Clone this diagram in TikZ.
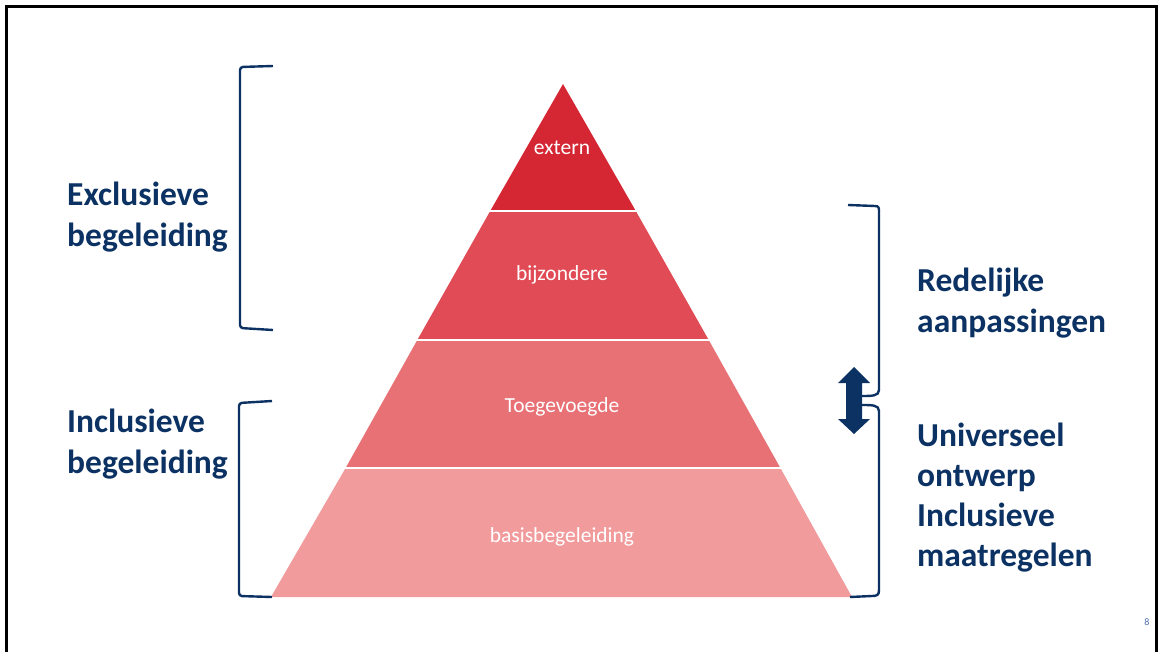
\documentclass[tikz,border=0pt]{standalone}
\usepackage{fontspec}
\setmainfont{Carlito}
\definecolor{navy}{RGB}{12,50,100}
\definecolor{lay1}{RGB}{212,38,51}
\definecolor{lay2}{RGB}{224,75,85}
\definecolor{lay3}{RGB}{232,113,118}
\definecolor{lay4}{RGB}{242,155,157}
\definecolor{pgnum}{RGB}{80,110,170}
\tikzset{
  layertext/.style={text=white, font=\fontsize{21.5}{25}\selectfont, inner sep=0pt},
  bluelabel/.style={text=navy, font=\fontsize{33.5}{41}\selectfont\bfseries, align=left, anchor=west, inner sep=0pt},
  bracket/.style={draw=navy, line width=2.4pt, rounded corners=3pt},
  sep/.style={draw=white, line width=2pt}
}
\begin{document}
\begin{tikzpicture}[x=1pt,y=-1pt]
\useasboundingbox (0,0) rectangle (1158,652);
\fill[white] (0,0) rectangle (1158,652);
% frame
\begin{scope}
\clip (0,0) rectangle (1158,652);
\draw[black, line width=3pt] (6,665) -- (6,7) -- (1156,7) -- (1156,665);
\end{scope}
% pyramid
\coordinate (apex) at (563,84);
\fill[lay1] (apex) -- (635.8,211) -- (490.2,211) -- cycle;
\fill[lay2] (490.2,211) -- (635.8,211) -- (708.7,340) -- (417.3,340) -- cycle;
\fill[lay3] (417.3,340) -- (708.7,340) -- (780.4,468) -- (345.6,468) -- cycle;
\fill[lay4] (345.6,468) -- (780.4,468) -- (852,597) -- (271,597) -- cycle;
\draw[sep] (480,211) -- (646,211);
\draw[sep] (407,340) -- (719,340);
\draw[sep] (335,468) -- (791,468);
\node[layertext] (extern) at (562,148) {extern};
\node[layertext] (bijz) at (562,275) {bijzondere};
\node[layertext] (toeg) at (562,407) {Toegevoegde};
\node[layertext] (basis) at (562,536.5) {basisbegeleiding};
% left brackets
\draw[bracket] (273,66) -- (240,67) -- (240,328) -- (273,330);
\draw[bracket] (272,401) -- (239,403) -- (239,596) -- (272,597);
% right brackets
\draw[bracket, rounded corners=0pt] (848,205) -- (875,206) .. controls (879,206) and (879,208) .. (879,212) -- (879,390) .. controls (879,396) and (872,396) .. (862,396);
\draw[bracket, rounded corners=0pt] (862,405) .. controls (872,405) and (879,405) .. (879,411) -- (879,590) .. controls (879,595) and (877,596) .. (872,596) -- (850,597);
% double arrow
\fill[navy] (854,367) -- (870,383) -- (862,383) -- (862,419) -- (870,419) -- (854,434) -- (838,419) -- (846,419) -- (846,383) -- (838,383) -- cycle;
% labels
\node[bluelabel] (excl) at (67,217) {Exclusieve\\begeleiding};
\node[bluelabel] (incl) at (67,444) {Inclusieve\\begeleiding};
\node[bluelabel] (redel) at (917,303) {Redelijke\\aanpassingen};
\node[bluelabel, font=\fontsize{33.5}{40}\selectfont\bfseries] (univ) at (917,498) {Universeel\\ontwerp\\Inclusieve\\maatregelen};
\node[text=pgnum, font=\fontsize{10}{11}\selectfont, inner sep=0pt] (pg) at (1147,622) {8};
\end{tikzpicture}
\end{document}
